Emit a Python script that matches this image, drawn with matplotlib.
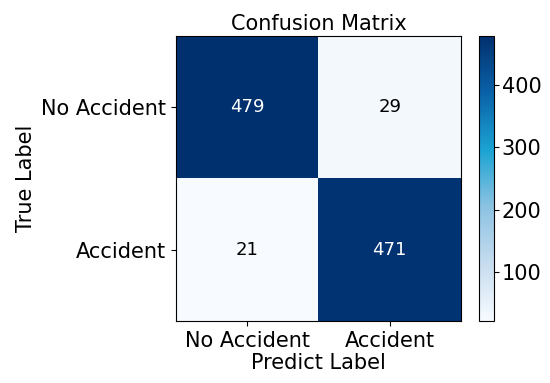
import numpy as np
import matplotlib
matplotlib.use("Agg")
import matplotlib.pyplot as plt
from matplotlib.colors import LinearSegmentedColormap

labels = ["No Accident", "Accident"]
cm_values = [[479, 29], [21, 471]]
cbar_ticks = [100, 200, 300, 400]

cmap = LinearSegmentedColormap.from_list(
    "cb", ["#f7fbff", "#c6dcef", "#8cc3e2", "#1ba3d3", "#0a62a8", "#01306f"],
    N=256)

fig = plt.figure(figsize=(5.5, 3.83), dpi=100)
ax = fig.add_axes([0.32, 0.162, 0.518, 0.744])
cax = fig.add_axes([0.871, 0.162, 0.027, 0.744])

data = np.array(cm_values)
im = ax.imshow(data, cmap=cmap, aspect="auto")
vmax = data.max()
for i in range(2):
    for j in range(2):
        v = data[i, j]
        ax.text(j, i, str(v), ha="center", va="center", fontsize=13,
                color="white" if v > vmax / 2 else "black")
ax.set_xticks(range(2))
ax.set_xticklabels(labels, fontsize=15)
ax.set_yticks(range(2))
ax.set_yticklabels(labels, fontsize=15)
ax.set_xlabel("Predict Label", fontsize=15, labelpad=2)
ax.set_ylabel("True Label", fontsize=15)
ax.set_title("Confusion Matrix", fontsize=15, pad=4)

cb = fig.colorbar(im, cax=cax)
cb.set_ticks(cbar_ticks)
cb.ax.tick_params(labelsize=15, pad=2)

fig.savefig("out.png", dpi=100)
